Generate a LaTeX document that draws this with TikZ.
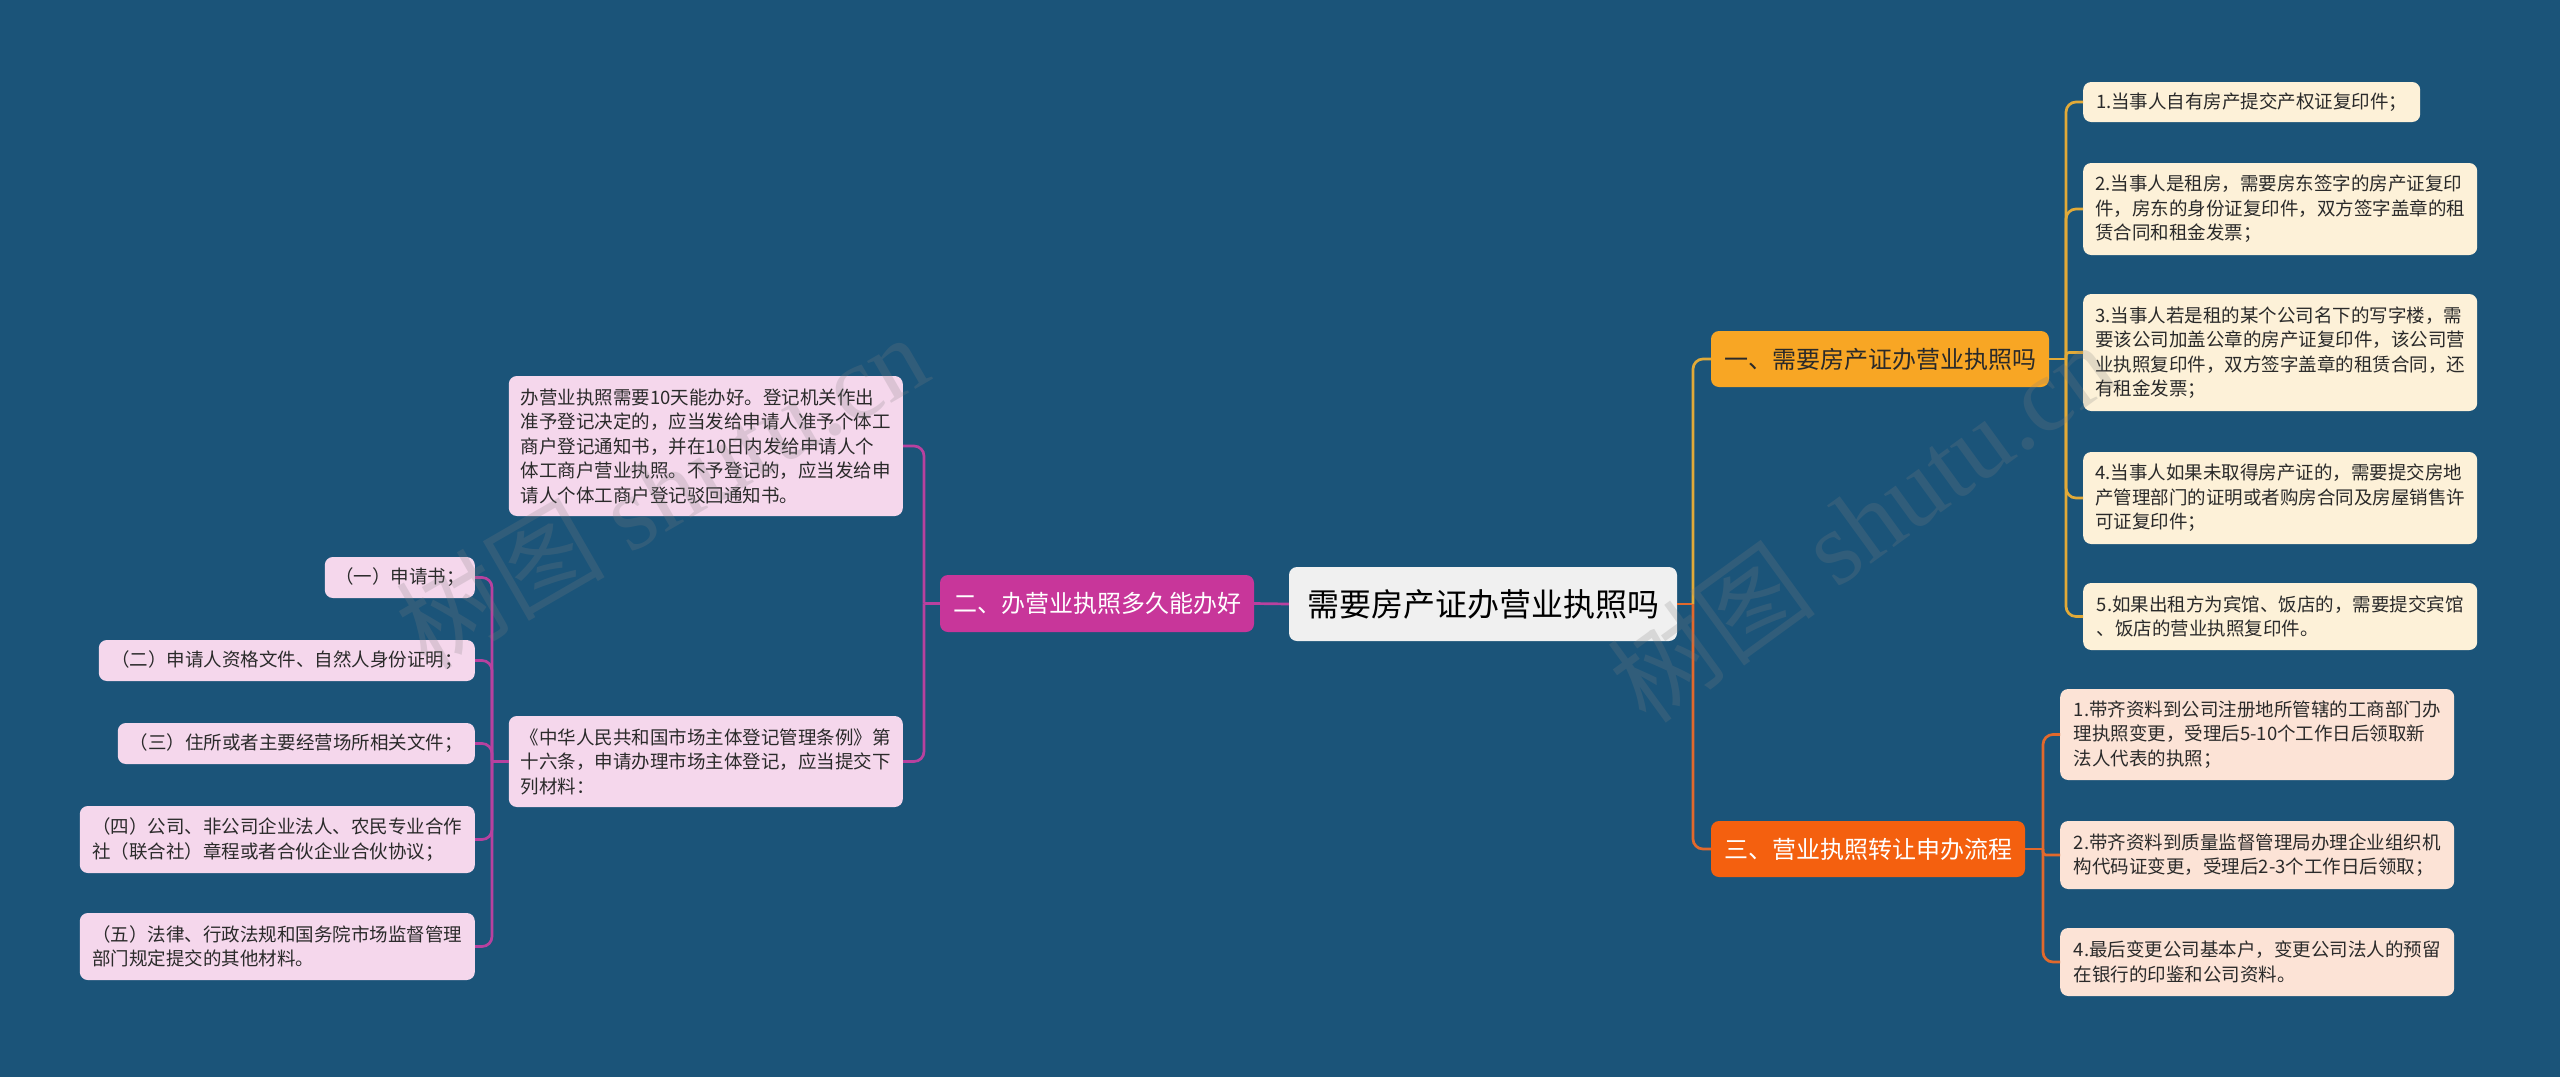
\documentclass[tikz,border=0pt]{standalone}
\usepackage{fontspec}
\setmainfont{Noto Sans CJK SC}
\newfontfamily\wmserif{Liberation Serif}
\definecolor{bg}{HTML}{1B5479}
\definecolor{centerfill}{HTML}{F0F0F0}
\definecolor{txtdark}{HTML}{2A2A2A}
\definecolor{yelfill}{HTML}{F8A624}
\definecolor{yelline}{HTML}{E2AA38}
\definecolor{yelleaf}{HTML}{FDF1D8}
\definecolor{orafill}{HTML}{F4600F}
\definecolor{oraline}{HTML}{E2692C}
\definecolor{oraleaf}{HTML}{FCE3D6}
\definecolor{magfill}{HTML}{C8369A}
\definecolor{magline}{HTML}{B8419F}
\definecolor{magleaf}{HTML}{F5D7EC}
\tikzset{
  box/.style={rounded corners=8pt, inner sep=0pt, align=left, text=txtdark},
  centerbox/.style={box, fill=centerfill, text=black, font=\fontsize{32}{38}\selectfont},
  branchbox/.style={box, font=\fontsize{24}{30}\selectfont, minimum height=56pt},
  leafbox/.style={box, font=\fontsize{18.5}{24.5}\selectfont},
  leafA/.style={leafbox, fill=yelleaf},
  leafC/.style={leafbox, fill=oraleaf},
  leafB/.style={leafbox, fill=magleaf},
  conn/.style={line width=2.7pt, rounded corners=10pt},
  connsmall/.style={line width=2.7pt, rounded corners=3pt},
  wm/.style={text=gray, opacity=0.22, font=\fontsize{105}{110}\selectfont}
}
\begin{document}
\begin{tikzpicture}[x=1pt,y=-1pt]
\fill[bg] (0,0) rectangle (2560,1077);
\useasboundingbox (0,0) rectangle (2560,1077);

% center
\node[centerbox, minimum width=388pt, minimum height=74pt] (c) at (1483,604) {需要房产证办营业执照吗};

% branches
\node[branchbox, fill=yelfill, text=txtdark, minimum width=338pt] (b1) at (1880,359) {一、需要房产证办营业执照吗};
\node[branchbox, fill=orafill, text=white, minimum width=314pt] (b3) at (1868,849) {三、营业执照转让申办流程};
\node[branchbox, fill=magfill, text=white, minimum width=314pt, minimum height=57pt] (b2) at (1097,603.5) {二、办营业执照多久能办好};

% leaves of branch 1
\node[leafA, anchor=west, minimum width=337pt, minimum height=40pt] (l1) at (2083,102) {1.当事人自有房产提交产权证复印件；};
\node[leafA, anchor=west, minimum width=394pt, minimum height=92pt] (l2) at (2083,209) {2.当事人是租房，需要房东签字的房产证复印\\件，房东的身份证复印件，双方签字盖章的租\\赁合同和租金发票；};
\node[leafA, anchor=west, minimum width=394pt, minimum height=117pt] (l3) at (2083,352.5) {3.当事人若是租的某个公司名下的写字楼，需\\要该公司加盖公章的房产证复印件，该公司营\\业执照复印件，双方签字盖章的租赁合同，还\\有租金发票；};
\node[leafA, anchor=west, minimum width=394pt, minimum height=92pt] (l4) at (2083,498) {4.当事人如果未取得房产证的，需要提交房地\\产管理部门的证明或者购房合同及房屋销售许\\可证复印件；};
\node[leafA, anchor=west, minimum width=394pt, minimum height=67pt] (l5) at (2083,616.5) {5.如果出租方为宾馆、饭店的，需要提交宾馆\\、饭店的营业执照复印件。};

% leaves of branch 3
\node[leafC, anchor=west, minimum width=394pt, minimum height=91pt] (m1) at (2060,734.5) {1.带齐资料到公司注册地所管辖的工商部门办\\理执照变更，受理后5-10个工作日后领取新\\法人代表的执照；};
\node[leafC, anchor=west, minimum width=394pt, minimum height=68pt] (m2) at (2060,855) {2.带齐资料到质量监督管理局办理企业组织机\\构代码证变更，受理后2-3个工作日后领取；};
\node[leafC, anchor=west, minimum width=394pt, minimum height=68pt] (m3) at (2060,962) {4.最后变更公司基本户，变更公司法人的预留\\在银行的印鉴和公司资料。};

% children of branch 2
\node[leafB, anchor=east, minimum width=394pt, minimum height=140pt] (p1) at (903,446) {办营业执照需要10天能办好。登记机关作出\\准予登记决定的，应当发给申请人准予个体工\\商户登记通知书，并在10日内发给申请人个\\体工商户营业执照。不予登记的，应当发给申\\请人个体工商户登记驳回通知书。};
\node[leafB, anchor=east, minimum width=394pt, minimum height=91pt] (p2) at (903,761.5) {《中华人民共和国市场主体登记管理条例》第\\十六条，申请办理市场主体登记，应当提交下\\列材料：};

% children of p2
\node[leafB, anchor=east, minimum width=150pt, minimum height=41pt] (q1) at (475,577.5) {（一）申请书；};
\node[leafB, anchor=east, minimum width=376pt, minimum height=41pt] (q2) at (475,660.5) {（二）申请人资格文件、自然人身份证明；};
\node[leafB, anchor=east, minimum width=357pt, minimum height=41pt] (q3) at (475,743.5) {（三）住所或者主要经营场所相关文件；};
\node[leafB, anchor=east, minimum width=395pt, minimum height=67pt] (q4) at (475,839.5) {（四）公司、非公司企业法人、农民专业合作\\社（联合社）章程或者合伙企业合伙协议；};
\node[leafB, anchor=east, minimum width=395pt, minimum height=67pt] (q5) at (475,946.5) {（五）法律、行政法规和国务院市场监督管理\\部门规定提交的其他材料。};

% junction coordinates
\coordinate (tj) at (1693,604);
\coordinate (b1j) at (2066,359);
\coordinate (b3j) at (2043,849);
\coordinate (b2j) at (924,603.5);
\coordinate (p2j) at (492,761.5);

% trunk
\draw[conn, magline] (c.west) -- (b2.east);
\draw[conn, oraline] (c.east) -- (tj);
\draw[conn, yelline] (tj) |- (b1.west);
\draw[conn, oraline] (tj) |- (b3.west);

% branch 1 connectors
\draw[conn, yelline] (b1.east) -- (b1j);
\draw[conn, yelline] (b1j) |- (l1.west);
\draw[conn, yelline] (b1j) |- (l2.west);
\draw[connsmall, yelline] (b1j) |- (l3.west);
\draw[conn, yelline] (b1j) |- (l4.west);
\draw[conn, yelline] (b1j) |- (l5.west);

% branch 3 connectors
\draw[conn, oraline] (b3.east) -- (b3j);
\draw[conn, oraline] (b3j) |- (m1.west);
\draw[connsmall, oraline] (b3j) |- (m2.west);
\draw[conn, oraline] (b3j) |- (m3.west);

% branch 2 connectors
\draw[conn, magline] (b2.west) -- (b2j);
\draw[conn, magline] (b2j) |- (p1.east);
\draw[conn, magline] (b2j) |- (p2.east);

% p2 connectors
\draw[conn, magline] (p2.west) -- (p2j);
\draw[conn, magline] (p2j) |- (q1.east);
\draw[conn, magline] (p2j) |- (q2.east);
\draw[conn, magline] (p2j) |- (q3.east);
\draw[conn, magline] (p2j) |- (q4.east);
\draw[conn, magline] (p2j) |- (q5.east);

% watermarks
\node[wm, rotate=30] (wm1) at (661,490) {树图 {\wmserif shutu.cn}};
\node[wm, rotate=36] (wm2) at (1861,522) {树图 {\wmserif shutu.cn}};
\end{tikzpicture}
\end{document}
